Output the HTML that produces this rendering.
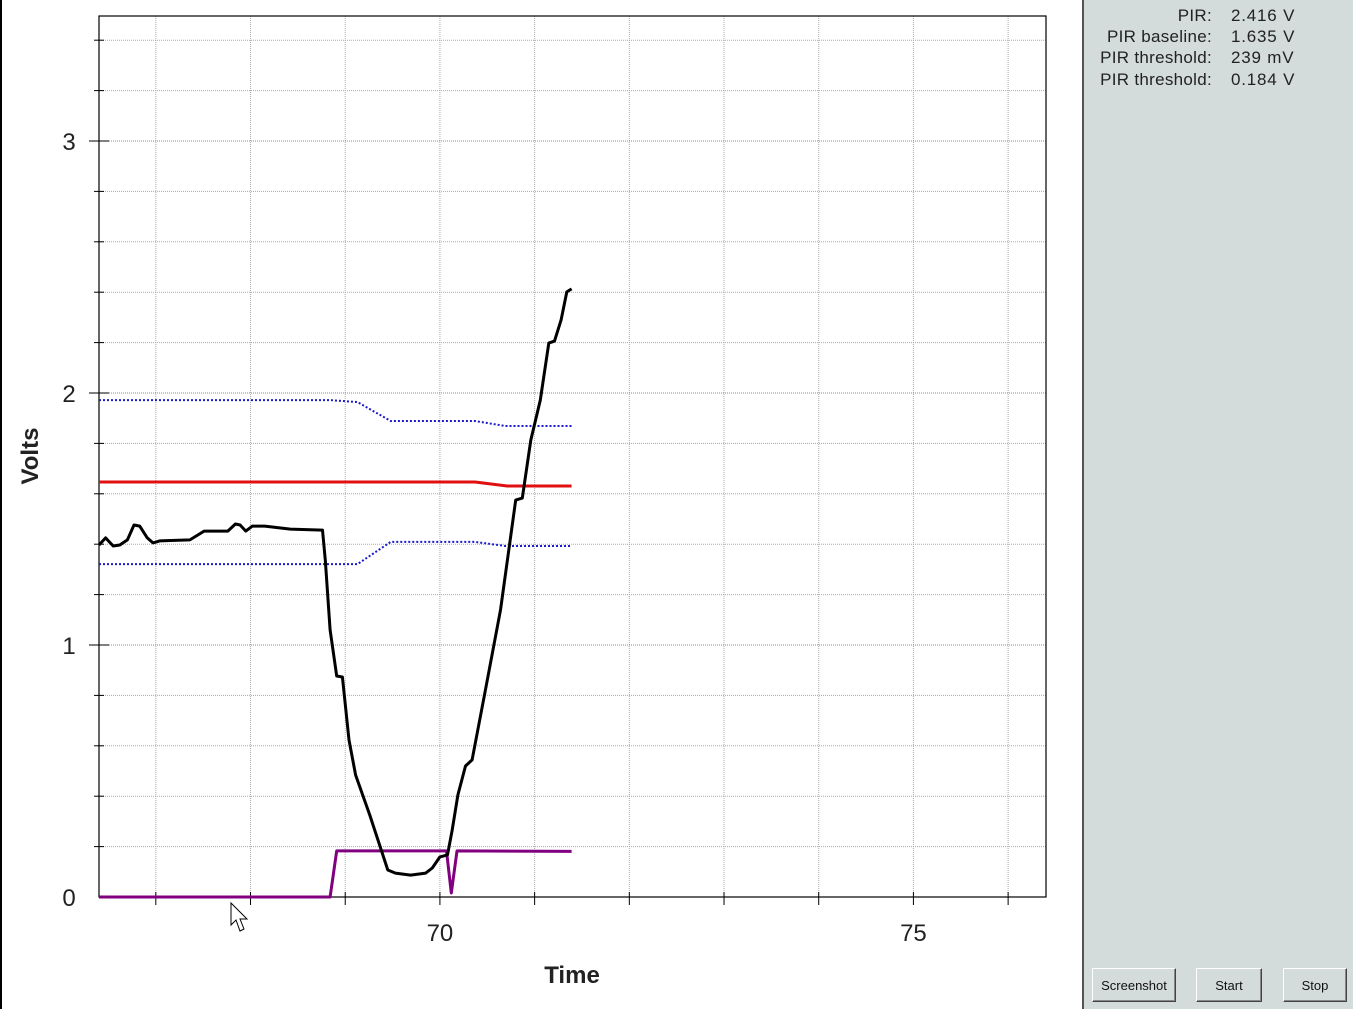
<!DOCTYPE html>
<html><head><meta charset="utf-8"><style>
html,body{margin:0;padding:0;width:1353px;height:1009px;overflow:hidden;background:#fff;font-family:"Liberation Sans",sans-serif}
#chart{position:absolute;left:0;top:0}
#panel{position:absolute;left:1082px;top:0;width:271px;height:1009px;background:#d3dbdb;border-left:2px solid #555;box-sizing:border-box}
.row{position:absolute;font-size:17px;color:#222;white-space:nowrap;letter-spacing:0.3px}
.lab{right:141px;text-align:right}
.val{left:147px;letter-spacing:0.8px}
.btn{position:absolute;top:968px;height:34px;background:#d3dbdb;border:1px solid #fff;border-right-color:#444;border-bottom-color:#444;box-shadow:inset -1px -1px 0 #888;font-size:13px;color:#111;text-align:center;line-height:34px;box-sizing:border-box}
</style></head><body>
<div style="position:absolute;left:0;top:0;width:2px;height:1009px;background:#000"></div>
<svg id="chart" width="1082" height="1009" xmlns="http://www.w3.org/2000/svg"></svg>
<div id="panel">
<div class="row lab" style="top:6px">PIR:</div>
<div class="row val" style="top:6px">2.416 V</div>
<div class="row lab" style="top:27px">PIR baseline:</div>
<div class="row val" style="top:27px">1.635 V</div>
<div class="row lab" style="top:48px">PIR threshold:</div>
<div class="row val" style="top:48px">239 mV</div>
<div class="row lab" style="top:70px">PIR threshold:</div>
<div class="row val" style="top:70px">0.184 V</div>
<div class="btn" style="left:8px;width:84px">Screenshot</div>
<div class="btn" style="left:112px;width:66px">Start</div>
<div class="btn" style="left:199px;width:64px">Stop</div>
</div>
<script>
const pirT=[66.40,66.47,66.55,66.62,66.70,66.77,66.83,66.91,66.97,67.04,67.36,67.51,67.76,67.84,67.89,67.95,68.02,68.15,68.42,68.76,68.79,68.84,68.91,68.97,69.04,69.11,69.26,69.45,69.53,69.69,69.85,69.92,70.00,70.08,70.13,70.19,70.27,70.34,70.48,70.64,70.80,70.87,70.96,71.06,71.15,71.21,71.28,71.34,71.39];
const pirV=[1.397,1.425,1.393,1.397,1.417,1.476,1.472,1.425,1.405,1.413,1.417,1.452,1.452,1.480,1.476,1.452,1.472,1.472,1.460,1.456,1.337,1.060,0.877,0.873,0.623,0.484,0.325,0.107,0.095,0.087,0.095,0.115,0.159,0.167,0.266,0.405,0.520,0.544,0.821,1.139,1.575,1.583,1.813,1.972,2.198,2.206,2.290,2.401,2.413];
const upT=[66.40,68.84,69.13,69.48,70.37,70.69,71.39];
const upV=[1.972,1.972,1.964,1.889,1.889,1.869,1.869];
const loT=[66.40,69.13,69.48,70.37,70.69,71.39];
const loV=[1.321,1.321,1.409,1.409,1.393,1.393];
const baseT=[66.40,70.37,70.71,71.39];
const baseV=[1.647,1.647,1.631,1.631];
const trigT=[66.40,68.84,68.91,70.07,70.12,70.18,71.39];
const trigV=[0,0,0.183,0.183,0.016,0.183,0.181];
const xTicks=[70,75];
const yTicks=[0,1,2,3];

const X0=99,X1=1046,Y0=897,Y1=16,TMIN=66.4,TMAX=76.4,VMIN=0,VMAX=3.496;
const sx=t=>X0+(t-TMIN)/(TMAX-TMIN)*(X1-X0);
const sy=v=>Y0-(v-VMIN)/(VMAX-VMIN)*(Y0-Y1);
const svg=document.getElementById('chart');
const NS='http://www.w3.org/2000/svg';
function mk(tag,attrs){const e=document.createElementNS(NS,tag);for(const k in attrs)e.setAttribute(k,attrs[k]);svg.appendChild(e);return e;}
for(let t=67;t<=76;t++){const l=mk('line',{x1:sx(t),x2:sx(t),y1:Y1,y2:Y0,stroke:'#aaa','stroke-dasharray':'1,1'});


const k=mk('line',{x1:sx(t),x2:sx(t),y1:Y0-5,y2:Y0+8,stroke:'#000'});

}
for(let i=1;i<=17;i++){const v=i*0.2;const major=Math.abs(v-Math.round(v))<1e-6;
const l=mk('line',{x1:X0,x2:X1,y1:sy(v),y2:sy(v),stroke:major?'#888':'#aaa','stroke-dasharray':'1,1'});


const k=mk('line',{x1:major?X0-10:X0-5,x2:major?X0+10:X0+5,y1:sy(v),y2:sy(v),stroke:'#000'});

}
const fr=mk('rect',{x:X0,y:Y1,width:X1-X0,height:Y0-Y1,fill:'none',stroke:'#000','stroke-width':1.2});


xTicks.forEach(t=>{const e=mk('text',{x:sx(t),y:941,'font-size':24,'text-anchor':'middle',fill:'#222'});e.textContent=t;

});
yTicks.forEach(v=>{const e=mk('text',{x:69,y:sy(v)+9,'font-size':24,'text-anchor':'middle',fill:'#222'});e.textContent=v;

});
const xt=mk('text',{x:572,y:983,'font-size':24,'font-weight':'bold','text-anchor':'middle',fill:'#222'});xt.textContent='Time';


const yt=mk('text',{x:0,y:0,'font-size':24,'font-weight':'bold','text-anchor':'middle',fill:'#222',transform:'translate(38,456) rotate(-90)'});yt.textContent='Volts';


function series(T,V,attrs,name){const d=T.map((t,i)=>(i?'L':'M')+sx(t).toFixed(1)+','+sy(V[i]).toFixed(1)).join('');
const p=mk('path',Object.assign({d:d,fill:'none','stroke-linejoin':'round'},attrs));

}
series(upT,upV,{stroke:'#1a1acc','stroke-width':2,'stroke-dasharray':'2,2'},'upper-threshold-line');
series(loT,loV,{stroke:'#1a1acc','stroke-width':2,'stroke-dasharray':'2,2'},'lower-threshold-line');
series(baseT,baseV,{stroke:'#e01010','stroke-width':3},'baseline-line');
series(trigT,trigV,{stroke:'#800080','stroke-width':3},'trigger-line');
series(pirT,pirV,{stroke:'#000','stroke-width':3},'pir-line');
const cur=mk('path',{d:'M231,903 L231,925 L236,920 L240,931 L244,929 L240,919 L247,919 Z',fill:'#fff',stroke:'#000','stroke-width':1});


</script>
</body></html>
